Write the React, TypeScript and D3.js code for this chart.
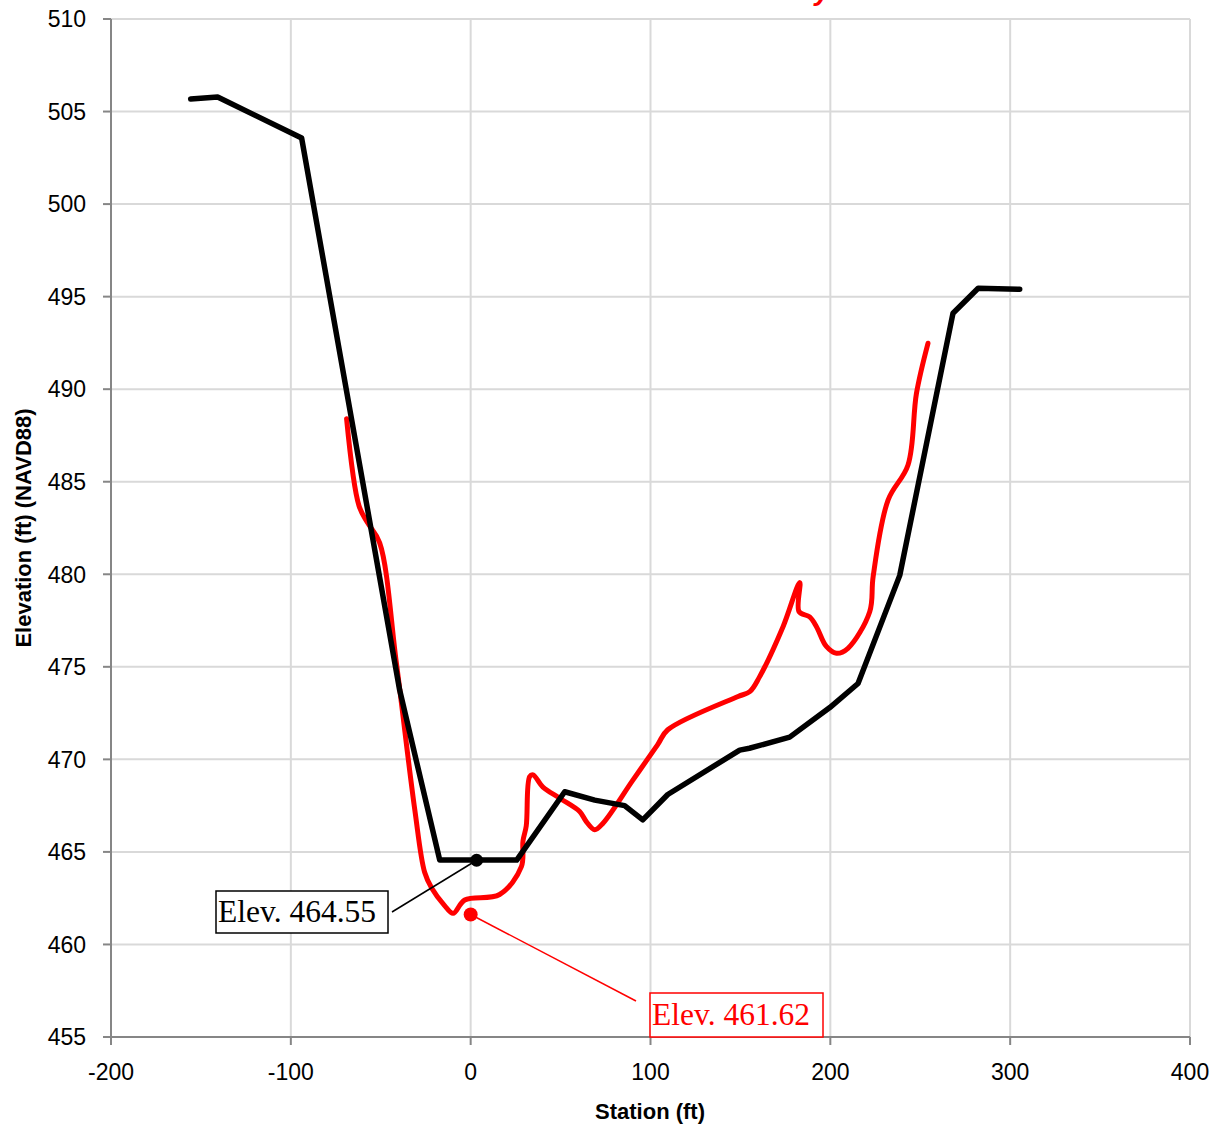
import React from "react";
import * as d3 from "d3";

// Channel cross-section: station (ft) vs. elevation (ft, NAVD88)
const blackStation = [-155.7, -140.7, -94, -39.5, -17.2, 3.3, 25.6, 52.3, 69, 85.6, 95.7, 109.6, 149.6, 155, 177.4, 199.7, 215.4, 238.6, 268.2, 282.2, 305.3];
const blackElev = [505.68, 505.79, 503.57, 473.75, 464.56, 464.56, 464.56, 468.25, 467.8, 467.5, 466.73, 468.1, 470.5, 470.6, 471.2, 472.8, 474.1, 479.94, 494.1, 495.45, 495.4];

const redStation = [-69, -62.1, -57.1, -50.6, -41.3, -31.1, -25.6, -21.7, -14.5, -9.8, -3.3, 16.1, 28.2, 29.1, 30.9, 32.8, 34.7, 40.2, 49.5, 60.6, 64.3, 69, 73.6, 90, 104, 109.6, 148.7, 155.2, 160.7, 173.7, 183, 182.6, 188.5, 192.3, 197.8, 203.4, 209.8, 221.9, 223.8, 232.1, 243.2, 247.9, 254.3];
const redElev = [488.4, 483.7, 482.75, 481.7, 475.2, 467.3, 463.9, 463.05, 462.1, 461.68, 462.4, 462.7, 464.2, 465.6, 466.4, 469.07, 469.16, 468.5, 467.9, 467.18, 466.64, 466.2, 466.55, 468.85, 470.8, 471.6, 473.4, 473.66, 474.47, 477.17, 479.55, 477.98, 477.7, 477.17, 476.1, 475.73, 476.0, 477.98, 479.87, 484.01, 485.9, 489.78, 492.48];

const xTicks = [-200, -100, 0, 100, 200, 300, 400];
const yTicks = [455, 460, 465, 470, 475, 480, 485, 490, 495, 500, 505, 510];

const blackMark = { station: 3.3, elev: 464.55, label: "Elev. 464.55" };
const redMark = { station: 0, elev: 461.62, label: "Elev. 461.62" };

const W = 1217;
const H = 1127;

export default function App() {
  const x = d3.scaleLinear().domain([-200, 400]).range([111, 1190]);
  const y = d3.scaleLinear().domain([455, 510]).range([1037, 19]);

  const blackPts: [number, number][] = blackStation.map((s, i) => [s, blackElev[i]]);
  const redPts: [number, number][] = redStation.map((s, i) => [s, redElev[i]]);

  const blackLine = d3
    .line<[number, number]>()
    .x((d) => x(d[0]))
    .y((d) => y(d[1]));
  const redLine = d3
    .line<[number, number]>()
    .x((d) => x(d[0]))
    .y((d) => y(d[1]))
    .curve(d3.curveCatmullRom.alpha(0.5));

  const [x0, x1] = x.range();
  const [y0, y1] = y.range();

  const bx = x(blackMark.station);
  const by = y(blackMark.elev);
  const rx = x(redMark.station);
  const ry = y(redMark.elev);

  const tickFont = "'Liberation Sans', Arial, sans-serif";
  const serif = "'Liberation Serif', 'Times New Roman', serif";

  return (
    <svg
      width={W}
      height={H}
      style={{ position: "absolute", left: 0, top: 0, background: "#fff" }}
    >
      <rect x={0} y={0} width={W} height={H} fill="#fff" />

      {/* title, sitting above the top edge */}
      <text
        x={830}
        y={0}
        textAnchor="end"
        fill="#ff0000"
        fontFamily={tickFont}
        fontWeight="bold"
        fontStyle="italic"
        fontSize={28}
      >
        Cross Section Survey
      </text>

      {/* gridlines */}
      {xTicks.map((t) => (
        <line key={"gx" + t} x1={x(t)} x2={x(t)} y1={y1} y2={y0} stroke="#d9d9d9" strokeWidth={2} />
      ))}
      {yTicks.map((t) => (
        <line key={"gy" + t} x1={x0} x2={x1} y1={y(t)} y2={y(t)} stroke="#d9d9d9" strokeWidth={2} />
      ))}

      {/* axes */}
      <line x1={x0} x2={x0} y1={y1} y2={y0} stroke="#868686" strokeWidth={2} />
      <line x1={x0} x2={x1} y1={y0} y2={y0} stroke="#868686" strokeWidth={2} />
      {yTicks.map((t) => (
        <line key={"ty" + t} x1={x0 - 8} x2={x0} y1={y(t)} y2={y(t)} stroke="#868686" strokeWidth={2} />
      ))}
      {xTicks.map((t) => (
        <line key={"tx" + t} x1={x(t)} x2={x(t)} y1={y0} y2={y0 + 8} stroke="#868686" strokeWidth={2} />
      ))}

      {/* tick labels */}
      {yTicks.map((t) => (
        <text
          key={"ly" + t}
          x={86}
          y={y(t)}
          dy="0.36em"
          textAnchor="end"
          fontFamily={tickFont}
          fontSize={23}
          fill="#000"
        >
          {t}
        </text>
      ))}
      {xTicks.map((t) => (
        <text
          key={"lx" + t}
          x={x(t)}
          y={1080}
          textAnchor="middle"
          fontFamily={tickFont}
          fontSize={23}
          fill="#000"
        >
          {t}
        </text>
      ))}

      {/* axis titles */}
      <text
        x={650}
        y={1119}
        textAnchor="middle"
        fontFamily={tickFont}
        fontWeight="bold"
        fontSize={22}
        fill="#000"
      >
        Station (ft)
      </text>
      <text
        transform={`translate(31,528) rotate(-90)`}
        textAnchor="middle"
        fontFamily={tickFont}
        fontWeight="bold"
        fontSize={22}
        fill="#000"
      >
        Elevation (ft) (NAVD88)
      </text>

      {/* profiles */}
      <path
        d={redLine(redPts) || ""}
        fill="none"
        stroke="#ff0000"
        strokeWidth={5}
        strokeLinejoin="round"
        strokeLinecap="round"
      />
      <path
        d={blackLine(blackPts) || ""}
        fill="none"
        stroke="#000"
        strokeWidth={5.5}
        strokeLinejoin="round"
        strokeLinecap="round"
      />

      {/* black annotation */}
      <line x1={bx} y1={by} x2={392} y2={912} stroke="#000" strokeWidth={1.5} />
      <circle cx={bx} cy={by} r={6.5} fill="#000" />
      <rect x={216} y={891} width={172} height={42} fill="#fff" stroke="#000" strokeWidth={1.5} />
      <text x={218} y={922} fontFamily={serif} fontSize={31.5} fill="#000">
        {blackMark.label}
      </text>

      {/* red annotation */}
      <line x1={rx} y1={ry} x2={636} y2={1001} stroke="#ff0000" strokeWidth={1.5} />
      <circle cx={rx} cy={ry} r={7} fill="#ff0000" />
      <rect x={650} y={993} width={173} height={44} fill="#fff" stroke="#ff0000" strokeWidth={1.5} />
      <text x={652} y={1025} fontFamily={serif} fontSize={31.5} fill="#ff0000">
        {redMark.label}
      </text>
    </svg>
  );
}
